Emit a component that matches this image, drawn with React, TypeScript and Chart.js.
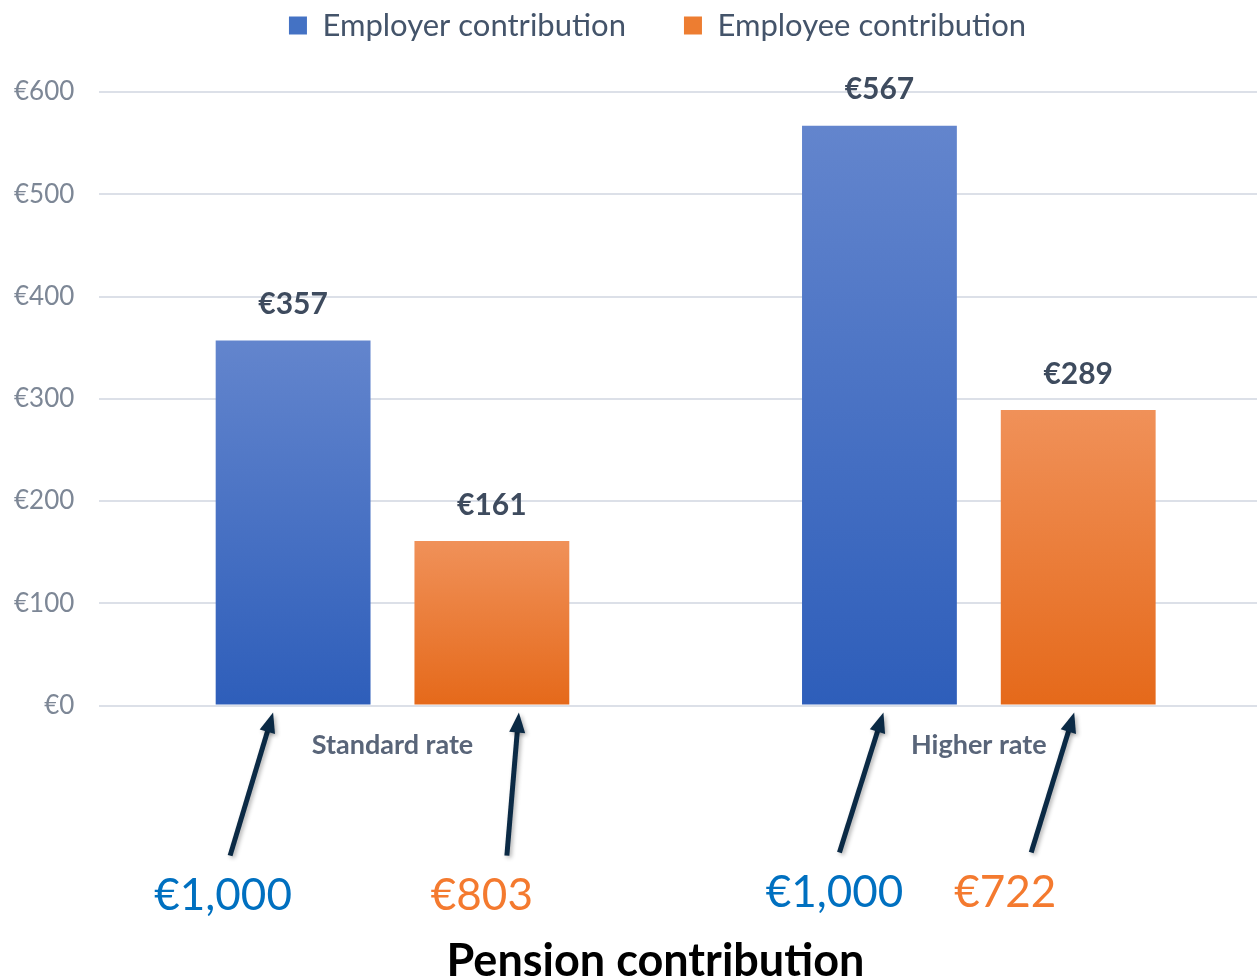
import React, { useEffect, useRef } from "react";
import { Chart, registerables } from "chart.js";

Chart.register(...registerables);

const categories = ["Standard rate", "Higher rate"];
const employerValues = [357, 567];
const employeeValues = [161, 289];
const employerPension = ["€1,000", "€1,000"];
const employeePension = ["€803", "€722"];
const yTicks = [0, 100, 200, 300, 400, 500, 600];
const seriesNames = ["Employer contribution", "Employee contribution"];
const axisTitle = "Pension contribution";

const FONT = "Lato, 'Open Sans', sans-serif";

// drawing offsets for the annotation arrows (relative to bar centre), per dataset, per category
const ARROW_STYLE = {
  tipDx: [[-20, 4], [27, -4]],
  tailDx: [[-63, -40], [15, -47]],
  textDx: [[-70, -45], [-10, -73]],
  tipDy: 7,
  tailDy: [150, 147],
  textDy: [190, 187],
};

function gradientFor(ctx: any, top: string, bottom: string) {
  const chart = ctx.chart;
  const y = chart.scales?.y;
  if (!y || ctx.type !== "data") return top;
  const v = ctx.raw as number;
  const yTop = y.getPixelForValue(v);
  const yBase = y.getPixelForValue(0);
  if (!isFinite(yTop) || !isFinite(yBase) || yTop === yBase) return top;
  const g = chart.ctx.createLinearGradient(0, yTop, 0, yBase);
  g.addColorStop(0, top);
  g.addColorStop(1, bottom);
  return g;
}

const legendMargin = {
  id: "legendMargin",
  afterInit(chart: any) {
    const legend = chart.legend;
    if (!legend) return;
    const orig = legend.fit;
    legend.fit = function () {
      orig.call(this);
      this.height += 41;
    };
  },
  afterLayout(chart: any) {
    const legend = chart.legend;
    if (legend) {
      legend.left += 27;
      legend.right += 27;
    }
    const title = chart.titleBlock;
    if (title) {
      title.left += 25;
      title.right += 25;
    }
  },
};

const annotations = {
  id: "annotations",
  afterDraw(chart: any) {
    const ctx = chart.ctx;
    const area = chart.chartArea;
    const lists = [employerPension, employeePension];
    const colors = ["#0070C0", "#F47A2F"];
    for (let d = 0; d < 2; d++) {
      const meta = chart.getDatasetMeta(d);
      meta.data.forEach((bar: any, i: number) => {
        const cx = bar.x;
        const tipX = cx + ARROW_STYLE.tipDx[d][i];
        const tipY = area.bottom + ARROW_STYLE.tipDy;
        const tailX = cx + ARROW_STYLE.tailDx[d][i];
        const tailY = area.bottom + ARROW_STYLE.tailDy[i];
        const ang = Math.atan2(tipY - tailY, tipX - tailX);
        const headLen = 20;
        const headW = 8;
        ctx.save();
        ctx.shadowColor = "rgba(0,0,0,0.3)";
        ctx.shadowBlur = 4;
        ctx.shadowOffsetX = 2;
        ctx.shadowOffsetY = 2;
        ctx.strokeStyle = "#0B2A45";
        ctx.fillStyle = "#0B2A45";
        ctx.lineWidth = 5;
        ctx.beginPath();
        ctx.moveTo(tailX, tailY);
        ctx.lineTo(tipX - Math.cos(ang) * (headLen - 4), tipY - Math.sin(ang) * (headLen - 4));
        ctx.stroke();
        const bx = tipX - Math.cos(ang) * headLen;
        const by = tipY - Math.sin(ang) * headLen;
        ctx.beginPath();
        ctx.moveTo(tipX, tipY);
        ctx.lineTo(bx + Math.sin(ang) * headW, by - Math.cos(ang) * headW);
        ctx.lineTo(bx - Math.sin(ang) * headW, by + Math.cos(ang) * headW);
        ctx.closePath();
        ctx.fill();
        ctx.restore();

        ctx.save();
        ctx.fillStyle = colors[d];
        ctx.font = `44px ${FONT}`;
        ctx.textAlign = "center";
        ctx.textBaseline = "middle";
        ctx.fillText(lists[d][i], cx + ARROW_STYLE.textDx[d][i], area.bottom + ARROW_STYLE.textDy[i]);
        ctx.restore();
      });
    }
  },
};

const valueLabels = {
  id: "valueLabels",
  afterDatasetsDraw(chart: any) {
    const ctx = chart.ctx;
    ctx.save();
    ctx.fillStyle = "#3E4B5E";
    ctx.font = `bold 30px ${FONT}`;
    ctx.textAlign = "center";
    ctx.textBaseline = "middle";
    chart.data.datasets.forEach((ds: any, d: number) => {
      const meta = chart.getDatasetMeta(d);
      meta.data.forEach((bar: any, i: number) => {
        ctx.fillText("€" + ds.data[i], bar.x, bar.y - 36);
      });
    });
    ctx.restore();
  },
};

export default function App() {
  const ref = useRef<HTMLCanvasElement>(null);
  useEffect(() => {
    if (!ref.current) return;
    const chart = new Chart(ref.current, {
      type: "bar",
      data: {
        labels: categories,
        datasets: [
          {
            label: seriesNames[0],
            data: employerValues,
            backgroundColor: (c: any) => gradientFor(c, "#6385CD", "#2E5EBA"),
            borderWidth: 0,
            categoryPercentage: 0.678,
            barPercentage: 0.779,
          },
          {
            label: seriesNames[1],
            data: employeeValues,
            backgroundColor: (c: any) => gradientFor(c, "#F09159", "#E5691A"),
            borderWidth: 0,
            categoryPercentage: 0.678,
            barPercentage: 0.779,
          },
        ],
      },
      options: {
        animation: false,
        responsive: false,
        maintainAspectRatio: false,
        layout: { padding: { left: 12, right: 3, top: -48, bottom: -6 } },
        plugins: {
          legend: {
            display: true,
            position: "top",
            labels: {
              boxWidth: 18,
              boxHeight: 18,
              padding: 58,
              color: "#44546A",
              font: { family: FONT, size: 31 },
              generateLabels: (chart: any) =>
                chart.data.datasets.map((ds: any, i: number) => ({
                  text: ds.label,
                  fillStyle: i === 0 ? "#4472C4" : "#ED7D31",
                  strokeStyle: "transparent",
                  lineWidth: 0,
                  fontColor: "#44546A",
                  datasetIndex: i,
                  hidden: false,
                })),
            },
          },
          title: {
            display: true,
            position: "bottom",
            text: axisTitle,
            color: "#000000",
            font: { family: FONT, size: 45, weight: "bold", lineHeight: 1 },
            padding: { top: 155, bottom: 0 },
          },
          tooltip: { enabled: false },
        },
        scales: {
          x: {
            grid: { display: false, drawTicks: false },
            border: { display: false },
            ticks: {
              color: "#596579",
              font: { family: FONT, size: 27, weight: "bold" },
              padding: 23,
            },
          },
          y: {
            min: 0,
            max: 600,
            afterBuildTicks: (axis: any) => {
              axis.ticks = yTicks.map((v) => ({ value: v }));
            },
            grid: { color: "#DCE0E8", lineWidth: 2, drawTicks: false },
            border: { display: false },
            ticks: {
              color: "#7D8796",
              font: { family: FONT, size: 26 },
              padding: 25,
              callback: (v: any) => "€" + v,
            },
          },
        },
      },
      plugins: [legendMargin, valueLabels, annotations],
    });
    return () => chart.destroy();
  }, []);
  return (
    <div style={{ position: "fixed", left: 0, top: 0, width: "100vw", height: "100vh", overflow: "hidden", background: "#fff" }}>
      <canvas ref={ref} width={1298} height={978} style={{ display: "block", width: 1298, height: 978, marginLeft: -23 }} />
    </div>
  );
}
